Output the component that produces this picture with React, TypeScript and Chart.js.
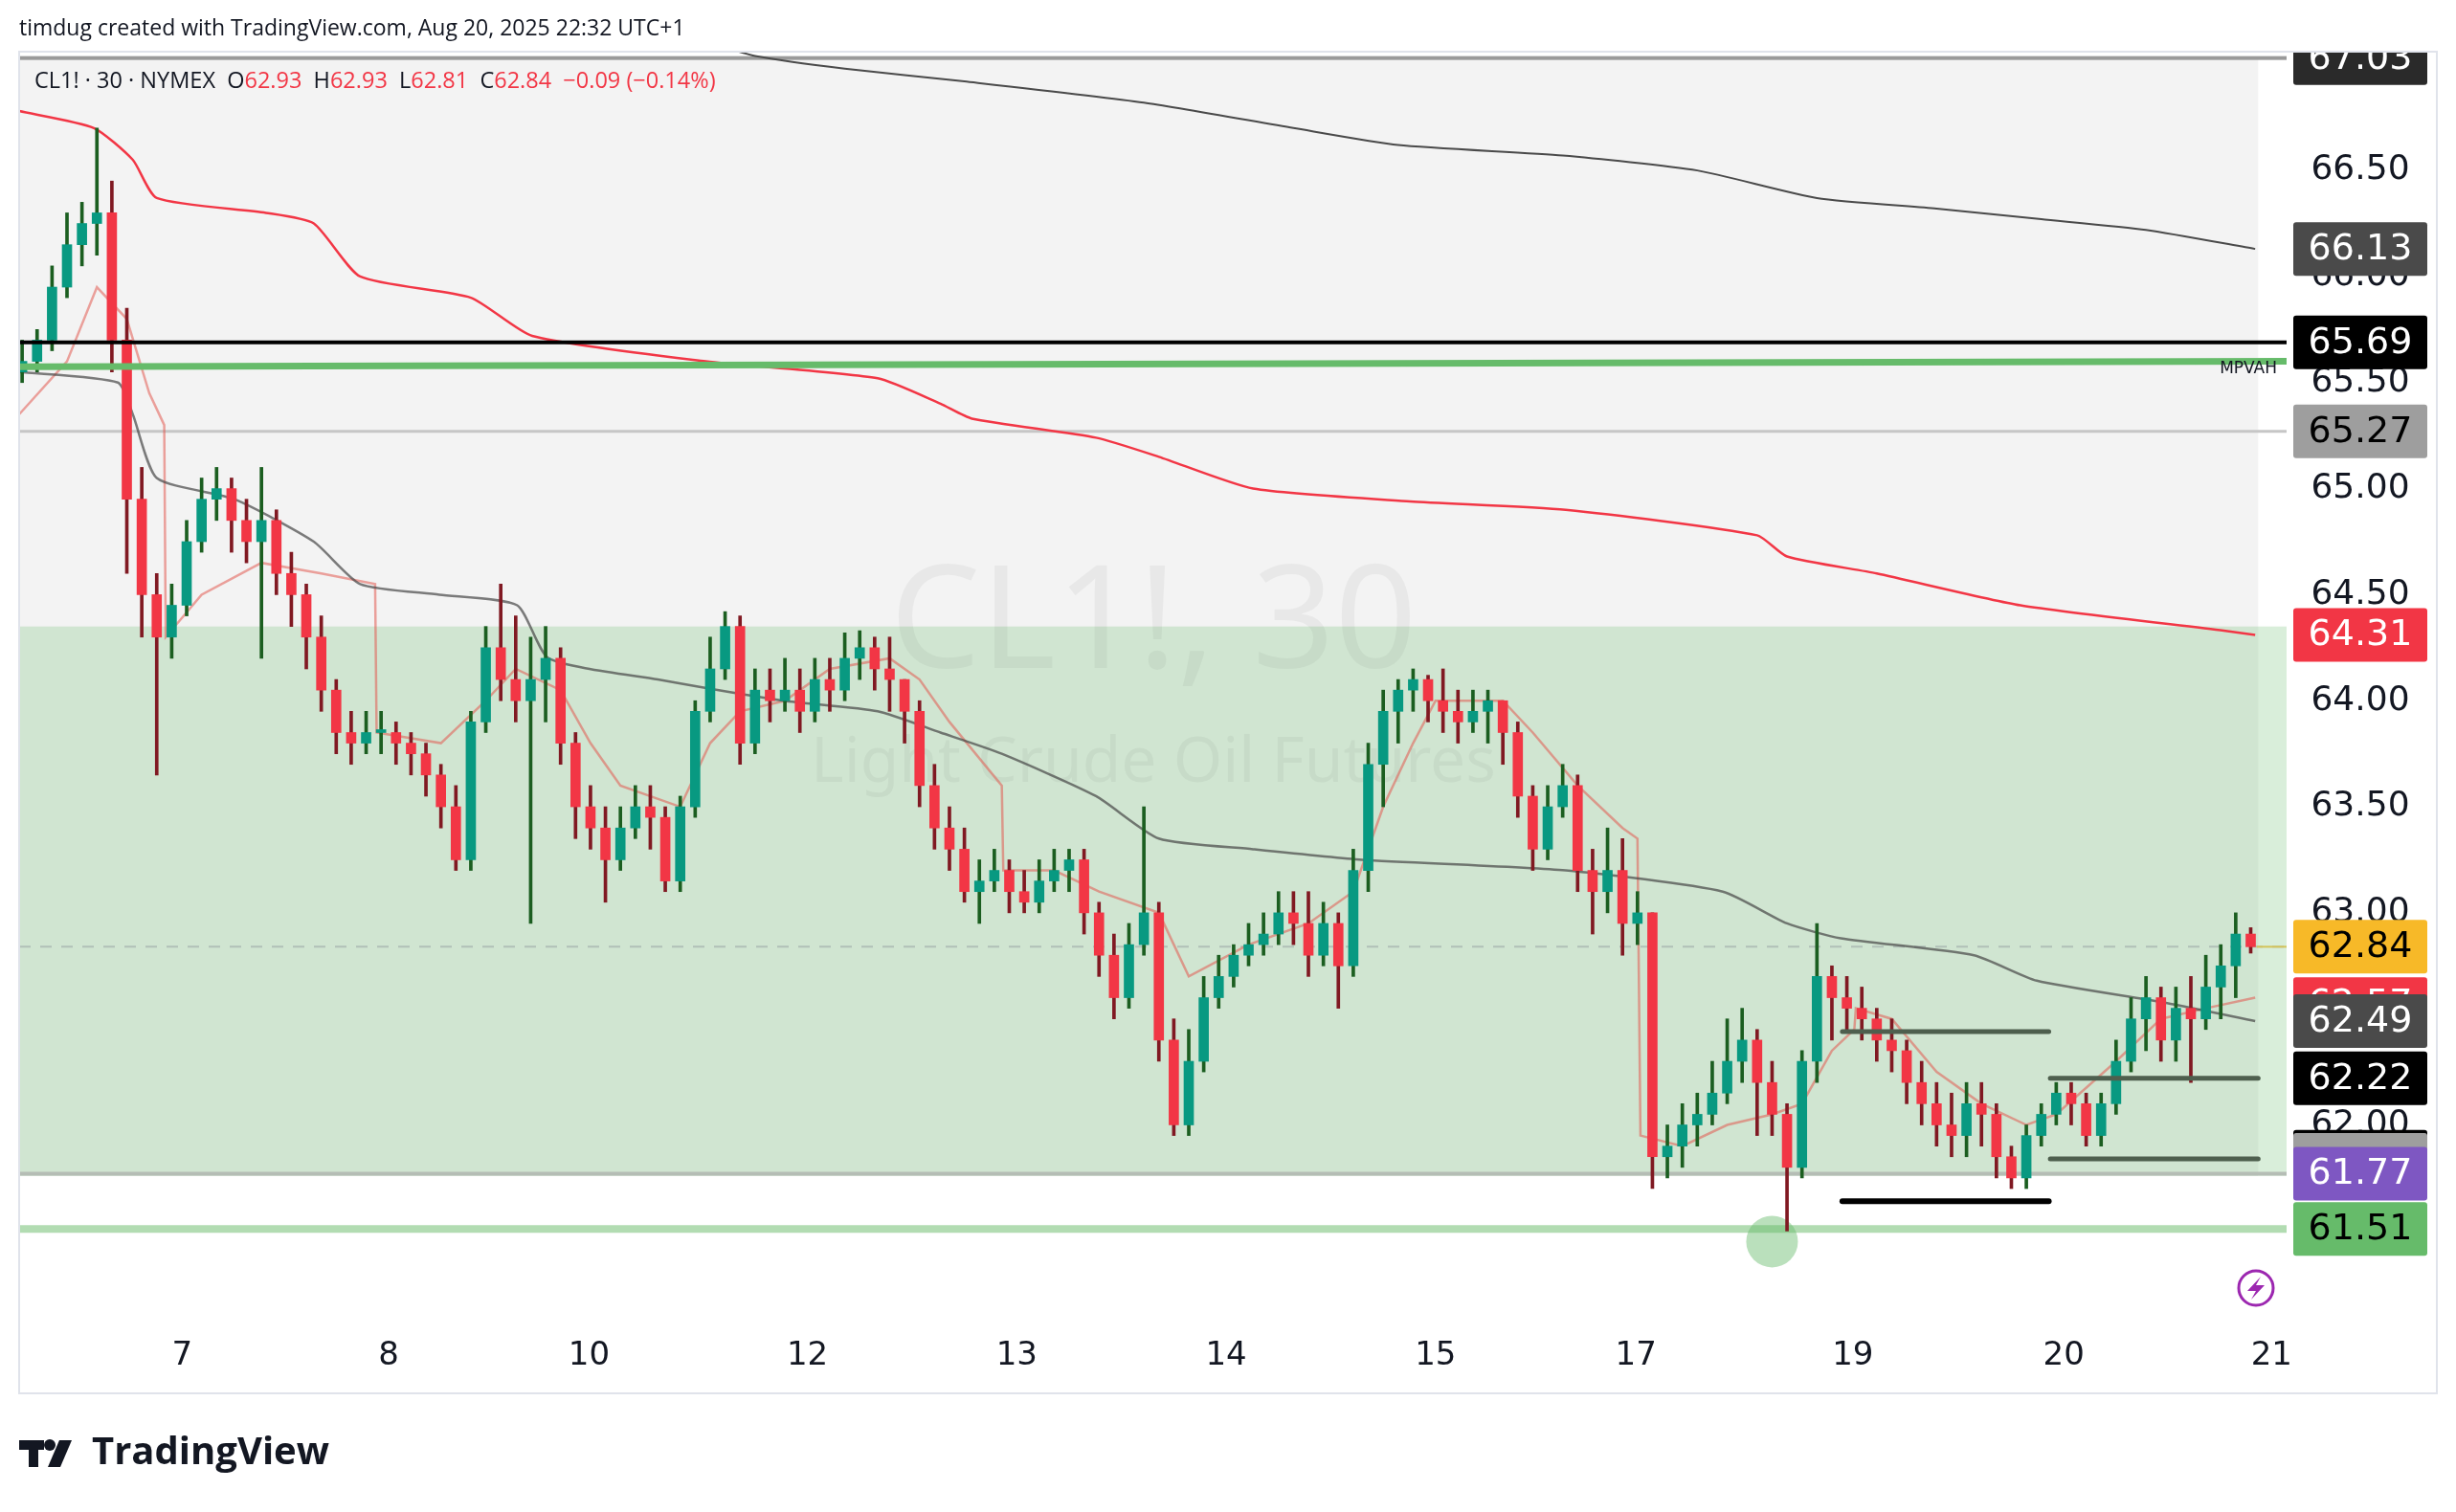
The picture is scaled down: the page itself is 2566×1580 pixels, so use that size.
import React, { useEffect, useRef } from "react";
import { Chart, registerables } from "chart.js";
Chart.register(...registerables);

const dayLabels = ["7", "8", "10", "12", "13", "14", "15", "17", "19", "20", "21"];
const dayPos = [10.7, 24.5, 37.9, 52.5, 66.5, 80.5, 94.5, 107.9, 122.4, 136.5, 150.4];

const firstOpen = 65.55;
const closes = [
  65.6, 65.7, 65.95, 66.15, 66.25, 66.3, 65.7, 64.95, 64.5, 64.3,
  64.45, 64.75, 64.95, 65.0, 64.85, 64.75, 64.85, 64.6, 64.5, 64.3,
  64.05, 63.85, 63.8, 63.85, 63.85, 63.8, 63.75, 63.65, 63.5, 63.25,
  63.9, 64.25, 64.1, 64.0, 64.1, 64.2, 63.8, 63.5, 63.4, 63.25,
  63.4, 63.5, 63.45, 63.15, 63.5, 63.95, 64.15, 64.35, 63.8, 64.05,
  64.0, 64.05, 63.95, 64.1, 64.05, 64.2, 64.25, 64.15, 64.1, 63.95,
  63.6, 63.4, 63.3, 63.1, 63.15, 63.2, 63.1, 63.05, 63.15, 63.2,
  63.25, 63.0, 62.8, 62.6, 62.85, 63.0, 62.4, 62.0, 62.3, 62.6,
  62.7, 62.8, 62.85, 62.9, 63.0, 62.95, 62.8, 62.95, 62.75, 63.2,
  63.7, 63.95, 64.05, 64.1, 64.0, 63.95, 63.9, 63.95, 64.0, 63.85,
  63.55, 63.3, 63.5, 63.6, 63.2, 63.1, 63.2, 62.95, 63.0, 61.85,
  61.9, 62.0, 62.05, 62.15, 62.3, 62.4, 62.2, 62.05, 61.8, 62.3,
  62.7, 62.6, 62.55, 62.5, 62.4, 62.35, 62.2, 62.1, 62.0, 61.95,
  62.1, 62.05, 61.85, 61.75, 61.95, 62.05, 62.15, 62.1, 61.95, 62.1,
  62.3, 62.5, 62.6, 62.4, 62.55, 62.5, 62.65, 62.75, 62.9, 62.84,
];
const highs = [
  65.7, 65.75, 66.05, 66.3, 66.35, 66.7, 66.45, 65.85, 65.1, 64.6,
  64.55, 64.85, 65.05, 65.1, 65.05, 64.95, 65.1, 64.9, 64.7, 64.55,
  64.4, 64.1, 63.95, 63.95, 63.95, 63.9, 63.85, 63.8, 63.7, 63.6,
  63.95, 64.35, 64.55, 64.4, 64.3, 64.35, 64.25, 63.85, 63.6, 63.5,
  63.5, 63.6, 63.6, 63.5, 63.55, 64.0, 64.3, 64.42, 64.4, 64.15,
  64.15, 64.2, 64.15, 64.2, 64.2, 64.32, 64.33, 64.3, 64.3, 64.1,
  64.0, 63.7, 63.5, 63.4, 63.25, 63.3, 63.25, 63.2, 63.25, 63.3,
  63.3, 63.3, 63.05, 62.9, 62.95, 63.5, 63.05, 62.5, 62.45, 62.7,
  62.8, 62.85, 62.95, 63.0, 63.1, 63.1, 63.1, 63.05, 63.0, 63.3,
  63.8, 64.05, 64.1, 64.15, 64.12, 64.15, 64.05, 64.05, 64.05, 64.0,
  63.9, 63.6, 63.6, 63.7, 63.65, 63.3, 63.4, 63.35, 63.1, 63.0,
  62.0, 62.1, 62.15, 62.3, 62.5, 62.55, 62.45, 62.3, 62.1, 62.35,
  62.95, 62.75, 62.7, 62.65, 62.55, 62.5, 62.4, 62.3, 62.2, 62.15,
  62.2, 62.2, 62.1, 61.9, 62.0, 62.1, 62.2, 62.2, 62.15, 62.15,
  62.4, 62.6, 62.7, 62.65, 62.65, 62.7, 62.8, 62.85, 63.0, 62.93,
];
const lows = [
  65.5, 65.55, 65.65, 65.9, 66.05, 66.1, 65.55, 64.6, 64.3, 63.65,
  64.2, 64.4, 64.7, 64.85, 64.7, 64.65, 64.2, 64.5, 64.35, 64.15,
  63.95, 63.75, 63.7, 63.75, 63.75, 63.7, 63.65, 63.55, 63.4, 63.2,
  63.2, 63.85, 64.0, 63.9, 62.95, 63.9, 63.7, 63.35, 63.3, 63.05,
  63.2, 63.35, 63.3, 63.1, 63.1, 63.45, 63.9, 64.1, 63.7, 63.75,
  63.9, 63.95, 63.85, 63.9, 63.95, 64.0, 64.1, 64.05, 63.95, 63.8,
  63.5, 63.3, 63.2, 63.05, 62.95, 63.1, 63.0, 63.0, 63.0, 63.1,
  63.1, 62.9, 62.7, 62.5, 62.55, 62.8, 62.3, 61.95, 61.95, 62.25,
  62.55, 62.65, 62.75, 62.8, 62.85, 62.85, 62.7, 62.75, 62.55, 62.7,
  63.1, 63.5, 63.8, 63.95, 63.9, 63.85, 63.8, 63.85, 63.8, 63.7,
  63.45, 63.2, 63.25, 63.45, 63.1, 62.9, 63.0, 62.8, 62.85, 61.7,
  61.75, 61.8, 61.9, 62.0, 62.1, 62.2, 61.95, 61.95, 61.5, 61.75,
  62.2, 62.4, 62.45, 62.4, 62.3, 62.25, 62.1, 62.0, 61.9, 61.85,
  61.85, 61.9, 61.75, 61.7, 61.7, 61.9, 62.0, 62.0, 61.9, 61.9,
  62.05, 62.25, 62.35, 62.3, 62.3, 62.2, 62.45, 62.5, 62.6, 62.81,
];

const upperGrayX = [46, 49, 55, 63, 75, 85, 92, 103, 112, 120, 128, 135, 142, 149.3];
const upperGrayY = [67.1, 67.04, 66.98, 66.92, 66.82, 66.7, 66.62, 66.57, 66.5, 66.37, 66.32, 66.27, 66.22, 66.13];
const upperRedX = [-0.2, 4.8, 7.4, 9, 16.3, 19.5, 22.6, 30, 34.1, 45.7, 57.2, 61.4, 63.5, 71.8, 76, 82.3, 92.8, 103.2, 116, 118, 124, 133.6, 147.2, 149.3];
const upperRedY = [66.78, 66.7, 66.55, 66.37, 66.3, 66.25, 66.0, 65.9, 65.72, 65.6, 65.52, 65.4, 65.33, 65.24, 65.15, 65.0, 64.94, 64.9, 64.78, 64.68, 64.6, 64.45, 64.33, 64.31];
const midGrayX = [-0.2, 6.4, 7.4, 9, 14.2, 19.5, 22.6, 27.9, 33.1, 35.2, 42.5, 50.9, 57.2, 61.4, 65.5, 71.8, 76, 82.3, 89.6, 103.2, 113.7, 118, 121.6, 130.5, 134.7, 143, 149.3];
const midGrayY = [65.55, 65.5, 65.35, 65.05, 64.95, 64.75, 64.55, 64.5, 64.45, 64.2, 64.1, 64.0, 63.95, 63.85, 63.75, 63.55, 63.35, 63.3, 63.25, 63.2, 63.1, 62.95, 62.88, 62.8, 62.68, 62.58, 62.49];
const sessX = [-0.2, 3, 5, 7, 8.5, 9.5, 9.6, 12, 16, 20, 23.6, 23.7, 28, 31, 33, 36, 38, 40, 44, 46, 48, 51, 54, 58, 60, 62, 65.5, 65.6, 69, 72, 76, 78, 82, 86, 89, 91, 93, 94.5, 99, 101, 104, 107, 108, 108.2, 111, 114, 117, 119, 121, 122.5, 122.6, 125, 128, 131, 134, 136, 140, 143, 146, 149.3];
const sessY = [65.35, 65.6, 65.95, 65.8, 65.45, 65.3, 64.3, 64.5, 64.65, 64.6, 64.55, 63.85, 63.8, 64.0, 64.15, 64.05, 63.8, 63.6, 63.5, 63.8, 63.95, 64.0, 64.15, 64.2, 64.1, 63.9, 63.6, 63.2, 63.2, 63.1, 63.0, 62.7, 62.85, 62.95, 63.1, 63.5, 63.8, 64.0, 64.0, 63.85, 63.6, 63.4, 63.35, 61.95, 61.9, 62.0, 62.05, 62.1, 62.35, 62.45, 62.55, 62.5, 62.25, 62.1, 62.0, 62.05, 62.3, 62.5, 62.55, 62.6];

const priceBoxes = [
  { v: 67.03, bg: "#2a2a2a", fg: "#ffffff", label: "67.03" },
  { v: 66.13, bg: "#4a4a4a", fg: "#ffffff", label: "66.13" },
  { v: 65.69, bg: "#000000", fg: "#ffffff", label: "65.69" },
  { v: 65.27, bg: "#9e9e9e", fg: "#000000", label: "65.27" },
  { v: 64.31, bg: "#f23645", fg: "#ffffff", label: "64.31" },
  { v: 62.84, bg: "#f7b928", fg: "#000000", label: "62.84" },
  { v: 62.57, bg: "#f23645", fg: "#ffffff", label: "62.57" },
  { v: 62.49, bg: "#4a4a4a", fg: "#ffffff", label: "62.49" },
  { v: 62.22, bg: "#000000", fg: "#ffffff", label: "62.22" },
  { v: 61.85, bg: "#000000", fg: "#000000", label: "" },
  { v: 61.835, bg: "#9e9e9e", fg: "#000000", label: "" },
  { v: 61.77, bg: "#7e57c2", fg: "#ffffff", label: "61.77" },
  { v: 61.51, bg: "#66bb6a", fg: "#000000", label: "61.51" },
];

const pts = (xs: number[], ys: number[]) => xs.map((x, i) => ({ x, y: ys[i] }));

export default function App() {
  const ref = useRef<HTMLCanvasElement>(null);
  useEffect(() => {
    const opens = closes.map((c, i) => (i === 0 ? firstOpen : closes[i - 1]));
    const up = closes.map((c, i) => c >= opens[i]);
    const overlay = {
      id: "overlay",
      beforeDatasetsDraw(chart: any) {
        const { ctx, chartArea: a, scales } = chart;
        const x = scales.x, y = scales.y;
        const Y = (v: number) => y.getPixelForValue(v);
        const X = (v: number) => x.getPixelForValue(v);
        ctx.save();
        ctx.fillStyle = "#f3f3f3";
        ctx.fillRect(a.left, Y(67.03), X(149.5) - a.left, Y(61.76) - Y(67.03));
        ctx.fillStyle = "rgba(102,187,106,0.25)";
        ctx.fillRect(a.left, Y(64.35), a.right - a.left, Y(61.76) - Y(64.35));
        ctx.fillStyle = "rgba(0,0,0,0.045)";
        ctx.textAlign = "center";
        ctx.textBaseline = "middle";
        ctx.font = "150px 'Noto Sans', sans-serif";
        ctx.fillText("CL1!, 30", 1205, 655);
        ctx.font = "66px 'Noto Sans', sans-serif";
        ctx.fillText("Light Crude Oil Futures", 1205, 798);
        ctx.fillStyle = "#9a9a9a";
        ctx.fillRect(a.left, Y(67.03) - 2, a.right - a.left, 4);
        const hline = (v: number, color: string, w: number, x0 = a.left, x1 = a.right, dash: number[] = []) => {
          ctx.beginPath();
          ctx.setLineDash(dash);
          ctx.strokeStyle = color;
          ctx.lineWidth = w;
          ctx.moveTo(x0, Y(v));
          ctx.lineTo(x1, Y(v));
          ctx.stroke();
          ctx.setLineDash([]);
        };
        hline(65.27, "#c6c6c6", 3);
        hline(61.77, "#b5bdb5", 4);
        hline(61.51, "#b2dcb2", 8);
        hline(62.84, "rgba(120,123,134,0.35)", 2, a.left, a.right, [12, 10]);
        hline(62.84, "#d4c45a", 2, X(149.4), a.right);
        ctx.fillStyle = "rgba(102,187,106,0.45)";
        ctx.beginPath();
        ctx.ellipse(X(117), Y(61.45), 27, 27, 0, 0, Math.PI * 2);
        ctx.fill();
        ctx.restore();
      },
      afterDatasetsDraw(chart: any) {
        const { ctx, chartArea: a, scales } = chart;
        const x = scales.x, y = scales.y;
        const Y = (v: number) => y.getPixelForValue(v);
        const X = (v: number) => x.getPixelForValue(v);
        ctx.save();
        const seg = (v: number, x0: number, x1: number, color: string, w: number, cap = "round") => {
          ctx.beginPath();
          ctx.strokeStyle = color;
          ctx.lineWidth = w;
          ctx.lineCap = cap;
          ctx.moveTo(x0, Y(v));
          ctx.lineTo(x1, Y(v));
          ctx.stroke();
        };
        seg(65.69, a.left, a.right, "#000000", 4, "butt");
        ctx.beginPath();
        ctx.strokeStyle = "#66bb6a";
        ctx.lineWidth = 7;
        ctx.lineCap = "butt";
        ctx.moveTo(a.left, Y(65.575));
        ctx.lineTo(a.right, Y(65.6));
        ctx.stroke();
        seg(62.44, X(121.7), X(135.5), "#4e5f4e", 5);
        seg(62.22, X(135.6), X(149.5), "#4e5f4e", 5);
        seg(61.84, X(135.6), X(149.5), "#4e5f4e", 5);
        seg(61.64, X(121.7), X(135.5), "#000000", 6);
        ctx.fillStyle = "#131722";
        ctx.font = "17px 'DejaVu Sans', sans-serif";
        ctx.textAlign = "right";
        ctx.textBaseline = "middle";
        ctx.fillText("MPVAH", a.right - 10, Y(65.575) + 2);
        ctx.restore();
      },
      afterDraw(chart: any) {
        const { ctx, chartArea: a, scales } = chart;
        const y = scales.y;
        const Y = (v: number) => y.getPixelForValue(v);
        ctx.save();
        ctx.strokeStyle = "#e0e3eb";
        ctx.lineWidth = 2;
        ctx.strokeRect(20, 54, 2526, 1402);
        ctx.fillStyle = "#131722";
        ctx.font = "36px 'DejaVu Sans', sans-serif";
        ctx.textAlign = "center";
        ctx.textBaseline = "middle";
        for (let v = 62; v <= 66.51; v += 0.5) {
          ctx.fillText(v.toFixed(2), 2466, Y(v));
        }
        ctx.beginPath();
        ctx.rect(a.right, 55, 200, 1400);
        ctx.clip();
        ctx.font = "38px 'DejaVu Sans', sans-serif";
        priceBoxes.forEach((b) => {
          const cy = Y(b.v);
          ctx.fillStyle = b.bg;
          ctx.beginPath();
          ctx.roundRect(2396, cy - 28, 140, 56, 3);
          ctx.fill();
          if (b.label) {
            ctx.fillStyle = b.fg;
            ctx.fillText(b.label, 2466, cy + 1);
          }
        });
        ctx.restore();
        ctx.save();
        ctx.strokeStyle = "#9c27b0";
        ctx.lineWidth = 3;
        ctx.beginPath();
        ctx.arc(2357, 1346, 18, 0, Math.PI * 2);
        ctx.stroke();
        ctx.fillStyle = "#9c27b0";
        ctx.beginPath();
        ctx.moveTo(2362, 1334);
        ctx.lineTo(2348, 1349);
        ctx.lineTo(2357, 1349);
        ctx.lineTo(2352, 1358);
        ctx.lineTo(2366, 1343);
        ctx.lineTo(2357, 1343);
        ctx.closePath();
        ctx.fill();
        ctx.fillStyle = "#131722";
        ctx.textAlign = "left";
        ctx.textBaseline = "middle";
        ctx.font = "23px 'Open Sans', sans-serif";
        ctx.fillText("timdug created with TradingView.com, Aug 20, 2025 22:32 UTC+1", 20, 30);
        let lx = 36;
        const ly = 85;
        ctx.font = "23.5px 'Open Sans', sans-serif";
        const parts: [string, string][] = [
          ["CL1! · 30 · NYMEX  ", "#131722"], ["O", "#131722"], ["62.93  ", "#f23645"],
          ["H", "#131722"], ["62.93  ", "#f23645"], ["L", "#131722"], ["62.81  ", "#f23645"],
          ["C", "#131722"], ["62.84  ", "#f23645"], ["−0.09 (−0.14%)", "#f23645"],
        ];
        parts.forEach(([t, c]) => {
          ctx.fillStyle = c;
          ctx.fillText(t, lx, ly);
          lx += ctx.measureText(t).width;
        });
        ctx.fillStyle = "#131722";
        ctx.fillRect(20, 1505, 26, 10);
        ctx.fillRect(30, 1505, 10, 28);
        ctx.beginPath();
        ctx.arc(52, 1510, 6, 0, Math.PI * 2);
        ctx.fill();
        ctx.beginPath();
        ctx.moveTo(62, 1505);
        ctx.lineTo(75, 1505);
        ctx.lineTo(63, 1533);
        ctx.lineTo(50, 1533);
        ctx.closePath();
        ctx.fill();
        ctx.font = "bold 40px 'Open Sans', sans-serif";
        ctx.fillText("TradingView", 96, 1519);
        ctx.restore();
      },
    };

    const lineDs = (data: any[], color: string, w: number) => ({
      type: "line" as const,
      data,
      borderColor: color,
      borderWidth: w,
      pointRadius: 0,
      tension: 0.2,
      order: 5,
    });

    const chart = new Chart(ref.current!, {
      type: "bar",
      data: {
        datasets: [
          lineDs(pts(upperGrayX, upperGrayY), "#4a4a4a", 2),
          lineDs(pts(upperRedX, upperRedY), "#f23645", 2.5),
          lineDs(pts(midGrayX, midGrayY), "rgba(70,70,70,0.7)", 2.5),
          { ...lineDs(pts(sessX, sessY), "rgba(226,90,80,0.55)", 2.5), tension: 0 },
          {
            type: "bar",
            data: closes.map((c, i) => ({ x: i, y: [lows[i], highs[i]] })),
            backgroundColor: up.map((u) => (u ? "#1b5e20" : "#801922")),
            barThickness: 3,
            grouped: false,
            order: 2,
          },
          {
            type: "bar",
            data: closes.map((c, i) => ({ x: i, y: [opens[i], c] })),
            backgroundColor: up.map((u) => (u ? "#089981" : "#f23645")),
            barThickness: 10,
            minBarLength: 3,
            grouped: false,
            order: 1,
          },
        ] as any,
      },
      plugins: [overlay],
      options: {
        animation: false,
        responsive: true,
        maintainAspectRatio: false,
        layout: { padding: { left: 20, top: 54, right: 0, bottom: 124 } },
        plugins: { legend: { display: false }, tooltip: { enabled: false } },
        scales: {
          x: {
            type: "linear",
            min: -0.2,
            max: 151.4,
            offset: false,
            grid: { display: false },
            border: { display: false },
            afterFit: (s: any) => { s.height = 81; },
            afterBuildTicks: (s: any) => { s.ticks = dayPos.map((v) => ({ value: v })); },
            ticks: {
              autoSkip: false,
              maxRotation: 0,
              padding: 14,
              color: "#131722",
              font: { size: 34, family: "'DejaVu Sans', sans-serif" },
              callback: (v: any) => dayLabels[dayPos.indexOf(v)] ?? "",
            },
          },
          y: {
            position: "right",
            min: 61.1,
            max: 67.06,
            grid: { display: false },
            border: { display: false },
            ticks: { display: false },
            afterFit: (s: any) => { s.width = 177; },
          },
        },
      } as any,
    });
    return () => chart.destroy();
  }, []);
  return (
    <div style={{ position: "fixed", left: 0, top: 0, width: 2566, height: 1580, background: "#fff" }}>
      <canvas ref={ref} />
    </div>
  );
}
